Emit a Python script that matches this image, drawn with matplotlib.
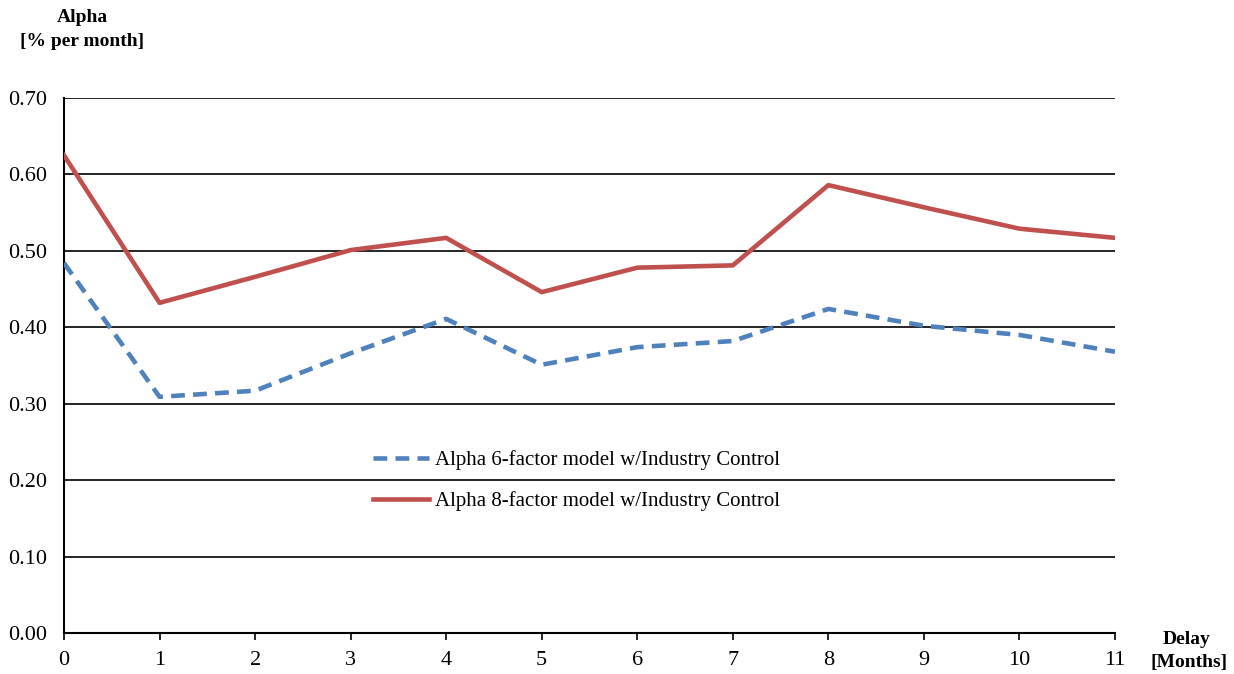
import matplotlib.pyplot as plt

# data
delay = [0, 1, 2, 3, 4, 5, 6, 7, 8, 9, 10, 11]
alpha_6f = [0.484, 0.309, 0.317, 0.366, 0.411, 0.351, 0.374, 0.382, 0.424, 0.402, 0.390, 0.368]
alpha_8f = [0.625, 0.432, 0.466, 0.501, 0.517, 0.446, 0.478, 0.481, 0.586, 0.557, 0.529, 0.517]
y_ticks = [0.0, 0.1, 0.2, 0.3, 0.4, 0.5, 0.6, 0.7]

plt.rcParams['font.family'] = ['Liberation Serif', 'DejaVu Serif']

fig = plt.figure(figsize=(12.34, 6.74), dpi=100)
ax = fig.add_axes([64 / 1234, 1 - 633 / 674, (1115 - 64) / 1234, (633 - 98) / 674])

# gridlines
for v in y_ticks[1:]:
    ax.axhline(v, color='black', lw=1.2, zorder=1)

ax.plot(delay, alpha_6f, color='#4F81BD', lw=3.3, ls=(0, (3, 1.8)),
        label='Alpha 6-factor model w/Industry Control', zorder=3)
ax.plot(delay, alpha_8f, color='#C0504D', lw=3.3,
        label='Alpha 8-factor model w/Industry Control', zorder=3)

ax.set_xlim(0, 11)
ax.set_ylim(0, 0.7)
ax.set_yticks(y_ticks)
ax.set_yticklabels(['%.2f' % v for v in y_ticks])
ax.set_xticks(delay)

for s in ['top', 'right']:
    ax.spines[s].set_visible(False)
ax.spines['left'].set_linewidth(1.5)
ax.spines['bottom'].set_linewidth(1.5)
ax.tick_params(axis='y', length=0, pad=12, labelsize=16)
ax.tick_params(axis='x', length=5, width=1.2, direction='out', pad=8, labelsize=16)

leg = ax.legend(loc='upper left', bbox_to_anchor=(0.276, 0.376), frameon=False,
                fontsize=15, handlelength=2.7, labelspacing=1.0, handletextpad=0.3)

fig.text(82 / 1234, 1 - 17 / 674, 'Alpha', ha='center', va='center',
         fontsize=14, fontweight='bold')
fig.text(82 / 1234, 1 - 42 / 674, '[% per month]', ha='center', va='center',
         fontsize=14, fontweight='bold')
fig.text(1187 / 1234, 1 - 640 / 674, 'Delay', ha='center', va='center',
         fontsize=14, fontweight='bold')
fig.text(1189 / 1234, 1 - 663 / 674, '[Months]', ha='center', va='center',
         fontsize=14, fontweight='bold')

fig.savefig('out.png', dpi=100)
